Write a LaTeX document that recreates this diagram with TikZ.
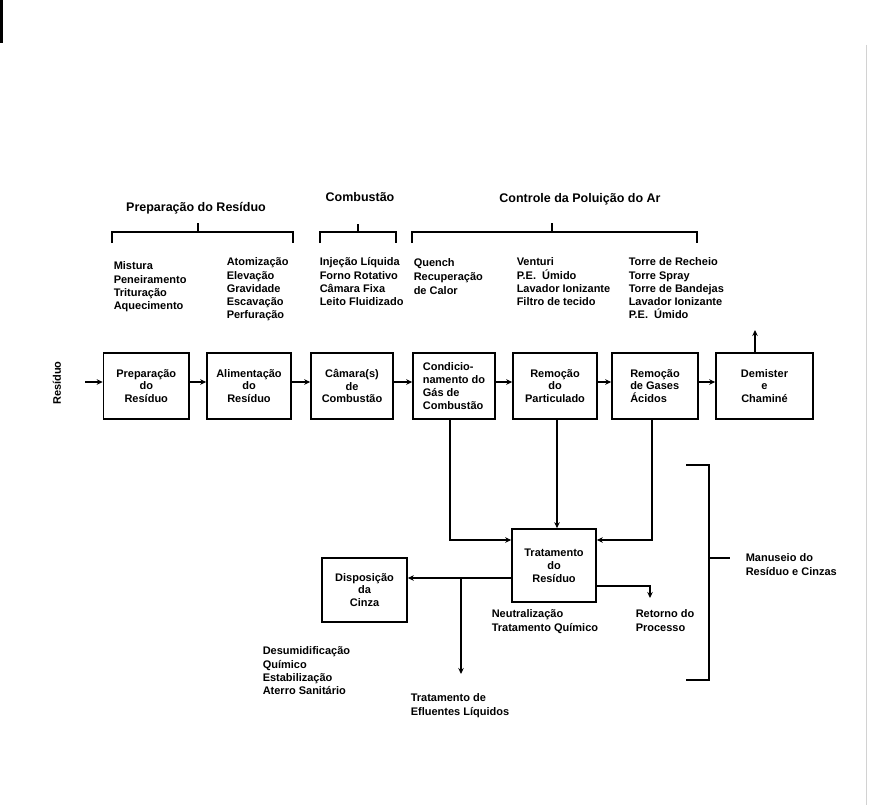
\documentclass[tikz,border=0pt]{standalone}
\usepackage{fontspec}
\setmainfont{Liberation Sans}
\usetikzlibrary{arrows.meta}
\begin{document}
\begin{tikzpicture}[x=1pt,y=-1pt,
  line width=1.5pt,
  every node/.style={font=\fontsize{11}{13.3}\selectfont\bfseries, inner sep=0pt},
  box/.style={draw, line width=1.6pt, minimum height=66pt, align=center,
    font=\fontsize{11}{12.8}\selectfont\bfseries},
  title/.style={font=\fontsize{12.5}{15}\selectfont\bfseries, anchor=base},
  list/.style={anchor=north west, align=left},
  arr/.style={-{Stealth[length=6pt,width=5.5pt]}},
]
\useasboundingbox (0,0) rectangle (869,805);
\fill (0,0) rectangle (3,43);
\draw[gray!35, line width=1pt] (866,45) -- (866,805);

% titles and brackets
\node[title] (t1) at (196,211) {Preparação do Resíduo};
\node[title] (t2) at (360,201) {Combustão};
\node[title] (t3) at (580,202) {Controle da Poluição do Ar};
\draw (112,243) -- (112,232) -- (293,232) -- (293,243);
\draw (198,232) -- (198,223);
\draw (320,243) -- (320,232) -- (396,232) -- (396,243);
\draw (358,232) -- (358,224);
\draw (412,243) -- (412,232) -- (697,232) -- (697,243);
\draw (552,232) -- (552,223);

% lists
\node[list] (l1) at (113,261) {Mistura\\Peneiramento\\Trituração\\Aquecimento};
\node[list] (l2) at (226,257) {Atomização\\Elevação\\Gravidade\\Escavação\\Perfuração};
\node[list] (l3) at (319,257) {Injeção Líquida\\Forno Rotativo\\Câmara Fixa\\Leito Fluidizado};
\node[list, font=\fontsize{11}{14}\selectfont\bfseries] (l4) at (413,258) {Quench\\Recuperação\\de Calor};
\node[list] (l5) at (516,257) {Venturi\\P.E.\ \ Úmido\\Lavador Ionizante\\Filtro de tecido};
\node[list] (l6) at (628,257) {Torre de Recheio\\Torre Spray\\Torre de Bandejas\\Lavador Ionizante\\P.E.\ \ Úmido};

% main boxes
\node[box, minimum width=85.5pt] (b1) at (146.25,386) {Preparação\\do\\Resíduo};
\node[box, minimum width=84pt] (b2) at (249,386) {Alimentação\\do\\Resíduo};
\node[box, minimum width=82pt] (b3) at (352,386) {Câmara(s)\\de\\Combustão};
\node[box, minimum width=82pt, align=left] (b4) at (454,386) {Condicio-\\namento do\\Gás de\\Combustão};
\node[box, minimum width=84pt] (b5) at (555,386) {Remoção\\do\\Particulado};
\node[box, minimum width=86pt, align=left] (b6) at (655,386) {Remoção\\de Gases\\Ácidos};
\node[box, minimum width=97pt] (b7) at (764.5,386) {Demister\\e\\Chaminé};
\node[box, minimum width=84pt, minimum height=73pt] (trat) at (554,565.5) {Tratamento\\do\\Resíduo};
\node[box, minimum width=85pt, minimum height=64pt] (disp) at (364.5,590) {Disposição\\da\\Cinza};

\node[rotate=90] (res) at (57,383) {Resíduo};

% main line connectors
\coordinate (in) at (85,382);
\draw[arr] (in) -- (in -| b1.west);
\draw[arr] ([yshift=4pt]b1.east) -- ([yshift=4pt]b2.west);
\draw[arr] ([yshift=4pt]b2.east) -- ([yshift=4pt]b3.west);
\draw[arr] ([yshift=4pt]b3.east) -- ([yshift=4pt]b4.west);
\draw[arr] ([yshift=4pt]b4.east) -- ([yshift=4pt]b5.west);
\draw[arr] ([yshift=4pt]b5.east) -- ([yshift=4pt]b6.west);
\draw[arr] ([yshift=4pt]b6.east) -- ([yshift=4pt]b7.west);
\coordinate (stack) at (755,330);
\draw[arr] (b7.north -| stack) -- (stack);

% to residue treatment
\coordinate (j4) at (450,540);
\draw[arr] (j4 |- b4.south) -- (j4) -- (j4 -| trat.west);
\coordinate (c5) at (557,0);
\draw[arr] (b5.south -| c5) -- (trat.north -| c5);
\coordinate (j6) at (652,540);
\draw[arr] (j6 |- b6.south) -- (j6) -- (j6 -| trat.east);

% from residue treatment
\coordinate (yd) at (0,578);
\draw[arr] (trat.west |- yd) -- (disp.east |- yd);
\coordinate (ef) at (461,674);
\draw[arr] (ef |- yd) -- (ef);
\coordinate (rt0) at (0,586);
\coordinate (rt) at (650,598);
\draw[arr] (trat.east |- rt0) -- (rt |- rt0) -- (rt);

% bottom texts
\node[list] (neu) at (491,609) {Neutralização\\Tratamento Químico};
\node[list] (ret) at (635,609) {Retorno do\\Processo};
\node[list] (des) at (262,646) {Desumidificação\\Químico\\Estabilização\\Aterro Sanitário};
\node[list] (efl) at (410,693) {Tratamento de\\Efluentes Líquidos};
\node[list] (man) at (745,553) {Manuseio do\\Resíduo e Cinzas};

% right bracket
\draw (686,465) -- (709,465) -- (709,680) -- (686,680);
\draw (709,558) -- (730,558);
\end{tikzpicture}
\end{document}
